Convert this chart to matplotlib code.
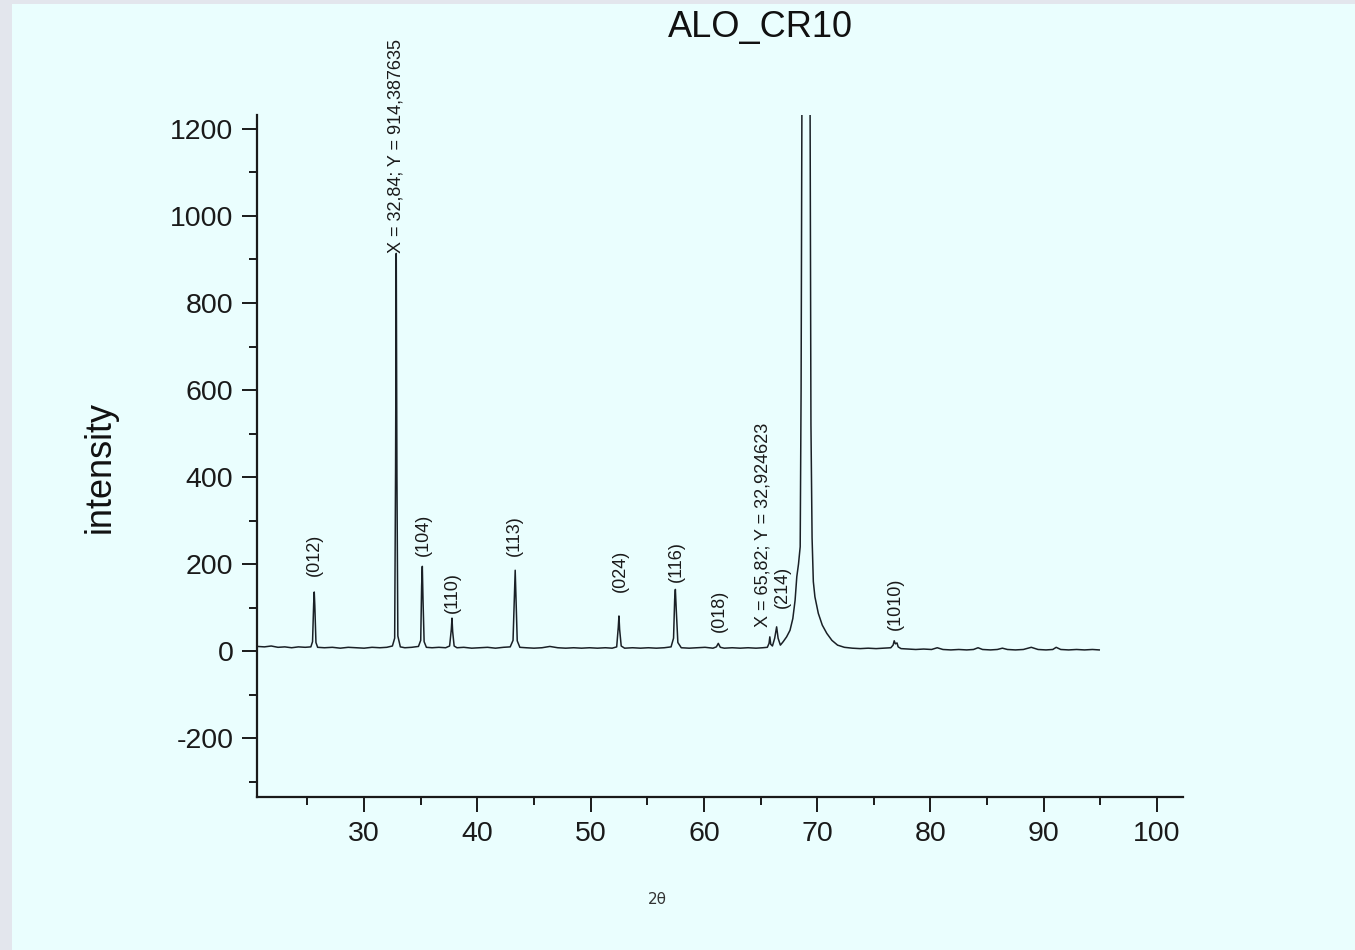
import matplotlib
matplotlib.use("Agg")
import matplotlib.pyplot as plt
from matplotlib.patches import Rectangle
from matplotlib.ticker import MultipleLocator

plt.rcParams["font.family"] = ["Liberation Sans", "DejaVu Sans"]
plt.rcParams["axes.unicode_minus"] = False

# XRD pattern, points (2theta in degrees, counts)
two_theta = [
    20.6, 21.2, 21.8, 22.4, 23.0, 23.6, 24.2, 24.8, 25.3,
    25.45, 25.55, 25.6, 25.65, 25.75, 25.9,
    26.5, 27.2, 27.9, 28.6, 29.3, 30.0, 30.7, 31.4, 32.0, 32.5,
    32.7, 32.78, 32.84, 32.9, 32.98, 33.2,
    33.6, 34.2, 34.8,
    35.0, 35.08, 35.14, 35.2, 35.3, 35.5,
    36.0, 36.6, 37.2, 37.55,
    37.7, 37.76, 37.82, 37.95, 38.2,
    38.8, 39.5, 40.2, 40.9, 41.6, 42.3, 42.9,
    43.15, 43.28, 43.34, 43.4, 43.52, 43.75,
    44.3, 45.0, 45.7, 46.4, 47.1, 47.8, 48.5, 49.2, 49.9, 50.6, 51.3, 51.9, 52.3,
    52.44, 52.5, 52.56, 52.7, 53.0,
    53.7, 54.4, 55.1, 55.8, 56.5, 57.1,
    57.32, 57.42, 57.48, 57.56, 57.7, 58.0,
    58.7, 59.4, 60.1, 60.8,
    61.1, 61.27, 61.45, 61.8,
    62.5, 63.2, 63.9, 64.6, 65.2, 65.6,
    65.75, 65.82, 65.9, 66.05, 66.25, 66.42, 66.55, 66.75,
    67.0, 67.3, 67.6, 67.85, 68.05, 68.2, 68.35, 68.5,
    68.58, 68.66, 68.8, 69.0, 69.2, 69.37, 69.45, 69.55, 69.66, 69.8,
    70.1, 70.45, 70.85, 71.3, 71.8, 72.4, 73.1, 73.8, 74.5, 75.2, 75.9, 76.5,
    76.7, 76.8, 76.9, 77.05, 77.15, 77.4,
    78.0, 78.7, 79.4, 80.1, 80.6, 81.1, 81.8, 82.5, 83.2, 83.8, 84.2, 84.6,
    85.3, 85.9, 86.35, 86.8, 87.5, 88.2, 88.9, 89.5, 90.2, 90.8, 91.1, 91.5,
    92.2, 92.9, 93.6, 94.3, 94.9,
]
intensity = [
    11, 10, 12, 9, 10, 8, 10, 9, 10,
    22, 110, 136, 105, 20, 9,
    8, 9, 7, 9, 8, 7, 9, 8, 9, 12,
    30, 420, 914, 400, 35, 10,
    8, 9, 11,
    25, 150, 195, 120, 22, 9,
    8, 9, 8, 12,
    50, 76, 45, 12, 8,
    9, 7, 8, 9, 7, 9, 10,
    25, 140, 186, 130, 24, 9,
    8, 7, 8, 11, 8, 7, 8, 7, 8, 7, 8, 7, 10,
    55, 81, 50, 12, 7,
    8, 7, 8, 7, 8, 10,
    30, 120, 142, 95, 20, 8,
    7, 8, 9, 7,
    10, 18, 9, 7,
    8, 7, 8, 7, 8, 9,
    18, 33, 16, 12, 30, 56, 30, 14,
    22, 33, 48, 75, 117, 171, 200, 240,
    600, 1300, 2800, 3600, 2800, 1300, 520, 260, 160, 125,
    87, 60, 41, 25, 14, 9, 7, 6, 7, 6, 7, 8,
    14, 24, 17, 19, 10, 6,
    5, 4, 5, 4, 8, 4, 3, 4, 3, 4, 8, 4,
    3, 4, 7, 4, 3, 4, 9, 4, 3, 4, 9, 4,
    3, 4, 3, 4, 3,
]

# Miller index labels: peak position and height of the label's lower end
hkl_labels = ["(012)", "(104)", "(110)", "(113)", "(024)", "(116)", "(018)", "(214)", "(1010)"]
hkl_x = [25.59, 35.2, 37.83, 43.24, 52.6, 57.6, 61.33, 66.95, 76.87]
hkl_y = [172, 218, 87, 218, 136, 159, 44, 99, 48]

# data-reader readouts
readout_labels = ["X = 32,84; Y = 914,387635", "X = 65,82; Y = 32,924623"]
readout_x = [32.84, 65.22]
readout_y = [914, 55]

fig = plt.figure(figsize=(13.55, 9.5), dpi=100, facecolor="#E3E6ED")
fig.patches.append(Rectangle((12 / 1355, 0), 1, 1 - 4 / 950, transform=fig.transFigure,
                             facecolor="#EAFEFE", edgecolor="none", zorder=-10))

ax = fig.add_axes([0.1897, 0.161, 0.6834, 0.718])
ax.set_zorder(2)
ax.set_facecolor("none")
ax.plot(two_theta, intensity, color="#1a2026", linewidth=1.1)

ax.set_xlim(20.55, 102.3)
ax.set_ylim(-335, 1232)
ax.xaxis.set_major_locator(MultipleLocator(10))
ax.xaxis.set_minor_locator(MultipleLocator(5))
ax.yaxis.set_major_locator(MultipleLocator(200))
ax.yaxis.set_minor_locator(MultipleLocator(100))
ax.set_xticks([30, 40, 50, 60, 70, 80, 90, 100])
ax.set_yticks([-200, 0, 200, 400, 600, 800, 1000, 1200])

for s in ["top", "right"]:
    ax.spines[s].set_visible(False)
for s in ["left", "bottom"]:
    ax.spines[s].set_linewidth(1.6)
    ax.spines[s].set_color("#1a1a1a")

ax.tick_params(which="major", direction="out", length=11, width=1.4, labelsize=20.5,
               colors="#1a1a1a", pad=6)
ax.tick_params(which="minor", direction="out", length=5.5, width=1.4, colors="#1a1a1a")

for lab, x, y in zip(hkl_labels, hkl_x, hkl_y):
    ax.text(x, y, lab, rotation=90, ha="center", va="bottom", fontsize=13, color="#1a1a1a")
for lab, x, y in zip(readout_labels, readout_x, readout_y):
    ax.text(x, y, lab, rotation=90, ha="center", va="bottom", fontsize=13, color="#1a1a1a",
            clip_on=False)

fig.text(760 / 1355, 1 - 28 / 950, "ALO_CR10", ha="center", va="center", fontsize=26,
         color="#111111")
fig.text(100 / 1355, 1 - 467 / 950, "intensity", rotation=90, ha="center", va="center",
         fontsize=26, color="#111111")
fig.text(657 / 1355, 1 - 900 / 950, "2θ", ha="center", va="center", fontsize=11,
         color="#333333", family=["DejaVu Sans"])

fig.savefig("out.png", dpi=100, facecolor=fig.get_facecolor())
